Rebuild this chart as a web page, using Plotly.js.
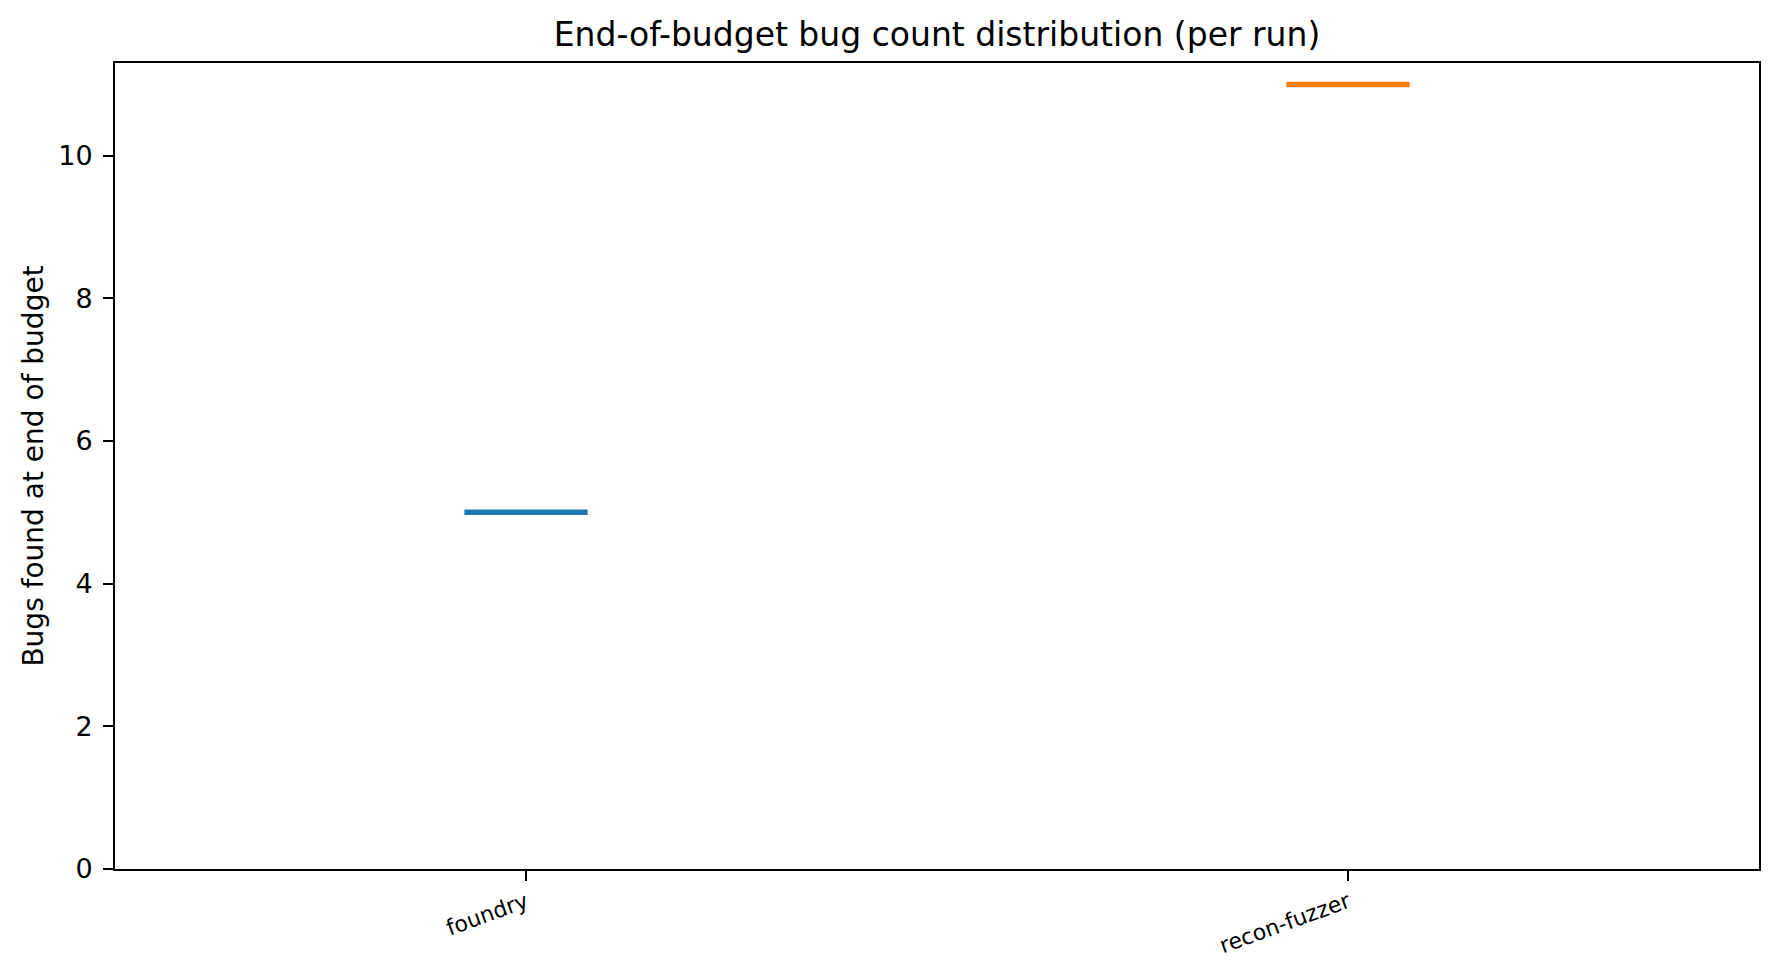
<!DOCTYPE html>
<html>
<head>
<meta charset="utf-8">
<script src="https://cdn.plot.ly/plotly-3.0.1.min.js"></script>
<style>
  html, body { margin: 0; padding: 0; background: #fff; }
  #chart { width: 1779px; height: 977px; }
</style>
</head>
<body>
<div id="chart"></div>
<script>
// Per-run bug counts at the end of the budget
const tools = ["foundry", "recon-fuzzer"];
const foundryRuns = [5, 5, 5, 5, 5];
const reconRuns = [11, 11, 11, 11, 11];
const colors = ["#1f77b4", "#ff7f0e"];
const yTicks = [0, 2, 4, 6, 8, 10];

const runs = [foundryRuns, reconRuns];

const traces = tools.map((name, i) => ({
  type: "box",
  name: name,
  x: runs[i].map(() => name),
  y: runs[i],
  width: 0.15,
  boxpoints: false,
  fillcolor: "rgba(0,0,0,0)",
  line: { color: colors[i], width: 5.5 },
  hoverinfo: "skip",
  showlegend: false,
}));

const font = { family: "DejaVu Sans, sans-serif", color: "#000" };

const layout = {
  width: 1779,
  height: 977,
  margin: { l: 115, r: 20, t: 63, b: 108 },
  paper_bgcolor: "#fff",
  plot_bgcolor: "#fff",
  font: font,
  title: {
    text: "End-of-budget bug count distribution (per run)",
    font: { family: font.family, size: 33, color: "#000" },
    x: 0.5,
    xref: "paper",
    y: 1 - 34 / 977,
    yref: "container",
    yanchor: "middle",
  },
  xaxis: {
    type: "category",
    categoryorder: "array",
    categoryarray: tools,
    range: [-0.5, 1.5],
    showgrid: false,
    zeroline: false,
    showline: true,
    mirror: true,
    linecolor: "#000",
    linewidth: 2,
    ticks: "outside",
    ticklen: 10,
    tickwidth: 2,
    tickcolor: "#000",
    tickangle: -20,
    ticklabelstandoff: 0,
    tickfont: { family: font.family, size: 22, color: "#000" },
  },
  yaxis: {
    range: [0, 11.3],
    tickvals: yTicks,
    showgrid: false,
    zeroline: false,
    showline: true,
    mirror: true,
    linecolor: "#000",
    linewidth: 2,
    ticks: "outside",
    ticklen: 10,
    tickwidth: 2,
    tickcolor: "#000",
    ticklabelstandoff: 5,
    tickfont: { family: font.family, size: 27, color: "#000" },
    title: {
      text: "Bugs found at end of budget",
      font: { family: font.family, size: 28, color: "#000" },
      standoff: 6,
    },
  },
  boxgap: 0,
};

Plotly.newPlot("chart", traces, layout, { displayModeBar: false, staticPlot: true });
</script>
</body>
</html>
